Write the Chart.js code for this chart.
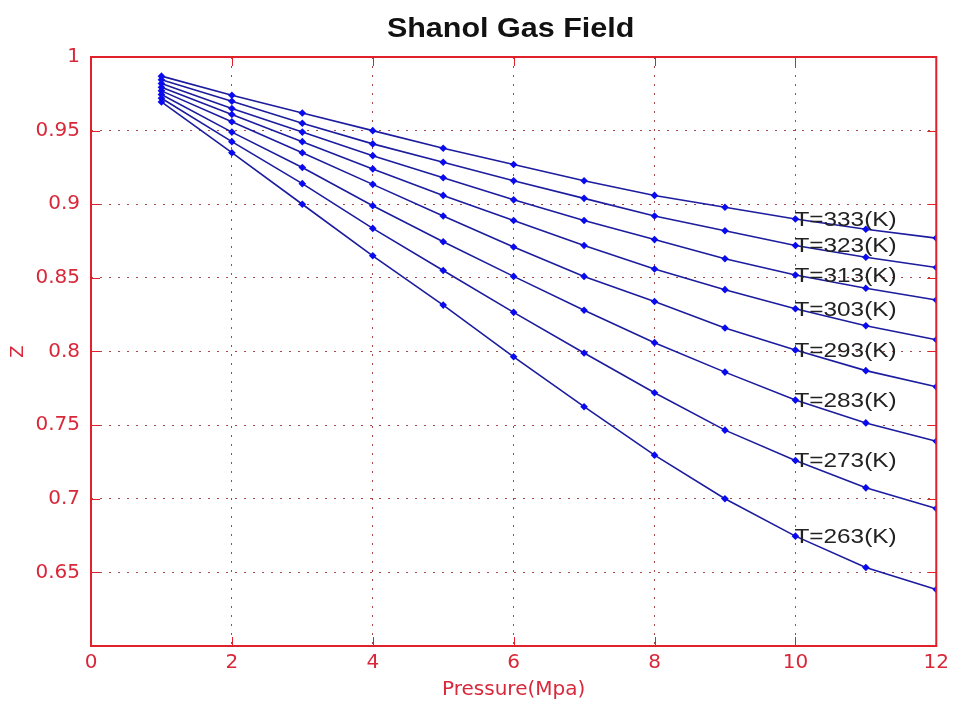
<!DOCTYPE html>
<html>
<head>
<meta charset="utf-8">
<title>Shanol Gas Field</title>
<script src="https://cdn.jsdelivr.net/npm/chart.js@4.4.1/dist/chart.umd.min.js"></script>
<style>
  html, body { margin: 0; padding: 0; background: #ffffff; }
  #wrap { width: 954px; height: 709px; }
</style>
</head>
<body>
<div id="wrap"><canvas id="chart" width="954" height="709"></canvas></div>
<script>
// Pressure (MPa) at which Z was evaluated
const pressure = [1, 2, 3, 4, 5, 6, 7, 8, 9, 10, 11, 12];

// Z-factor isotherms, one array per temperature
const z333 = [0.987, 0.974, 0.962, 0.950, 0.938, 0.927, 0.916, 0.906, 0.898, 0.890, 0.883, 0.877];
const z323 = [0.9845, 0.970, 0.955, 0.941, 0.9285, 0.916, 0.904, 0.892, 0.882, 0.872, 0.864, 0.857];
const z313 = [0.982, 0.965, 0.949, 0.933, 0.918, 0.903, 0.889, 0.876, 0.863, 0.852, 0.843, 0.835];
const z303 = [0.9795, 0.961, 0.9425, 0.924, 0.906, 0.889, 0.872, 0.856, 0.842, 0.829, 0.8175, 0.808];
const z293 = [0.977, 0.956, 0.935, 0.9135, 0.892, 0.871, 0.851, 0.834, 0.816, 0.801, 0.787, 0.776];
const z283 = [0.9745, 0.949, 0.925, 0.899, 0.8745, 0.851, 0.828, 0.806, 0.786, 0.767, 0.7515, 0.739];
const z273 = [0.972, 0.9425, 0.914, 0.8836, 0.855, 0.8266, 0.799, 0.772, 0.7466, 0.726, 0.7074, 0.6934];
const z263 = [0.9695, 0.935, 0.900, 0.865, 0.8315, 0.7964, 0.7625, 0.7296, 0.700, 0.6746, 0.6533, 0.6384];

const seriesValues = [z333, z323, z313, z303, z293, z283, z273, z263];
const seriesLabels = ['T=333(K)', 'T=323(K)', 'T=313(K)', 'T=303(K)', 'T=293(K)', 'T=283(K)', 'T=273(K)', 'T=263(K)'];

// Axis ticks
const xTicks = [0, 2, 4, 6, 8, 10, 12];
const yTicks = [0.6, 0.65, 0.7, 0.75, 0.8, 0.85, 0.9, 0.95, 1];
const yTickText = ['', '0.65', '0.7', '0.75', '0.8', '0.85', '0.9', '0.95', '1'];

// Pressure at which each isotherm is annotated
const labelPressure = 10;

const RED = '#e0202a';
const LABEL_RED = '#d8283a';
const LINE_BLUE = '#1c1c9e';
const MARK_BLUE = '#0a0af0';

const datasets = seriesValues.map((vals, i) => ({
  label: seriesLabels[i],
  data: pressure.map((p, j) => ({ x: p, y: vals[j] })),
  borderColor: LINE_BLUE,
  backgroundColor: MARK_BLUE,
  borderWidth: 1.6,
  pointStyle: 'rectRot',
  pointRadius: 3.8,
  pointBorderWidth: 0,
  pointBackgroundColor: MARK_BLUE,
  tension: 0,
  fill: false
}));

// Draw text widened horizontally by sx around its left/centre anchor
function wideText(ctx, text, x, y, sx, align) {
  ctx.save();
  ctx.translate(x, y);
  ctx.scale(sx, 1);
  ctx.textAlign = align;
  ctx.fillText(text, 0, 0);
  ctx.restore();
}

// Title above the plot area, centred on it
const titlePlugin = {
  id: 'plotTitle',
  afterDraw(chart) {
    const { ctx, chartArea } = chart;
    ctx.save();
    ctx.fillStyle = '#111111';
    ctx.font = 'bold 27px "Liberation Sans", Arial, sans-serif';
    ctx.textBaseline = 'alphabetic';
    wideText(ctx, 'Shanol Gas Field', (chartArea.left + chartArea.right) / 2 - 3, 37, 1.13, 'center');
    ctx.restore();
  }
};

// Box around the plot with inward tick marks on all four sides
const framePlugin = {
  id: 'frame',
  afterDatasetsDraw(chart) {
    const { ctx, chartArea: a, scales } = chart;
    const len = 9;
    ctx.save();
    ctx.strokeStyle = RED;
    ctx.lineWidth = 1;
    ctx.beginPath();
    xTicks.forEach(v => {
      const px = Math.round(scales.x.getPixelForValue(v)) + 0.5;
      ctx.moveTo(px, a.bottom); ctx.lineTo(px, a.bottom - len);
      ctx.moveTo(px, a.top); ctx.lineTo(px, a.top + len);
    });
    yTicks.forEach(v => {
      const py = Math.round(scales.y.getPixelForValue(v)) + 0.5;
      ctx.moveTo(a.left, py); ctx.lineTo(a.left + len, py);
      ctx.moveTo(a.right, py); ctx.lineTo(a.right - len, py);
    });
    ctx.stroke();
    ctx.lineWidth = 2;
    ctx.strokeRect(a.left, a.top, a.right - a.left, a.bottom - a.top);
    ctx.restore();
  }
};

// Temperature labels written next to each isotherm
const isothermLabels = {
  id: 'isothermLabels',
  afterDatasetsDraw(chart) {
    const { ctx } = chart;
    const idx = pressure.indexOf(labelPressure);
    ctx.save();
    ctx.fillStyle = '#222222';
    ctx.font = '21px "Liberation Sans", Arial, sans-serif';
    ctx.textBaseline = 'middle';
    chart.data.datasets.forEach((ds, i) => {
      const pt = chart.getDatasetMeta(i).data[idx];
      wideText(ctx, ds.label, pt.x - 1, pt.y + 1, 1.16, 'left');
    });
    ctx.restore();
  }
};

new Chart(document.getElementById('chart'), {
  type: 'line',
  data: { datasets },
  plugins: [titlePlugin, framePlugin, isothermLabels],
  options: {
    responsive: false,
    devicePixelRatio: 1,
    animation: false,
    layout: { padding: { top: 57, right: 16, bottom: 0, left: 0 } },
    plugins: {
      legend: { display: false },
      title: { display: false },
      tooltip: { enabled: false }
    },
    scales: {
      x: {
        type: 'linear',
        min: 0,
        max: 12,
        afterBuildTicks(scale) { scale.ticks = xTicks.map(v => ({ value: v })); },
        afterFit(scale) { scale.height = 63; },
        ticks: {
          color: LABEL_RED,
          font: { family: '"DejaVu Sans", sans-serif', size: 20 },
          padding: 5,
          maxRotation: 0,
          callback: v => String(v)
        },
        grid: { color: 'rgba(150,40,40,0.85)', lineWidth: 1, drawTicks: false },
        border: { display: false, dash: [2, 7] },
        title: {
          display: true,
          text: 'Pressure(Mpa)',
          color: LABEL_RED,
          font: { family: '"DejaVu Sans", sans-serif', size: 20 },
          padding: { top: 0, bottom: 7 }
        }
      },
      y: {
        type: 'linear',
        min: 0.6,
        max: 1,
        afterBuildTicks(scale) { scale.ticks = yTicks.map(v => ({ value: v })); },
        afterFit(scale) { scale.width = 91; },
        ticks: {
          color: LABEL_RED,
          font: { family: '"DejaVu Sans", sans-serif', size: 20 },
          padding: 11,
          callback: (v, i) => yTickText[i]
        },
        grid: { color: 'rgba(150,40,40,0.85)', lineWidth: 1, drawTicks: false },
        border: { display: false, dash: [2, 7] },
        title: {
          display: true,
          text: 'Z',
          color: LABEL_RED,
          font: { family: '"DejaVu Sans", sans-serif', size: 18 },
          padding: { top: 8, bottom: 0 }
        }
      }
    }
  }
});
</script>
</body>
</html>
